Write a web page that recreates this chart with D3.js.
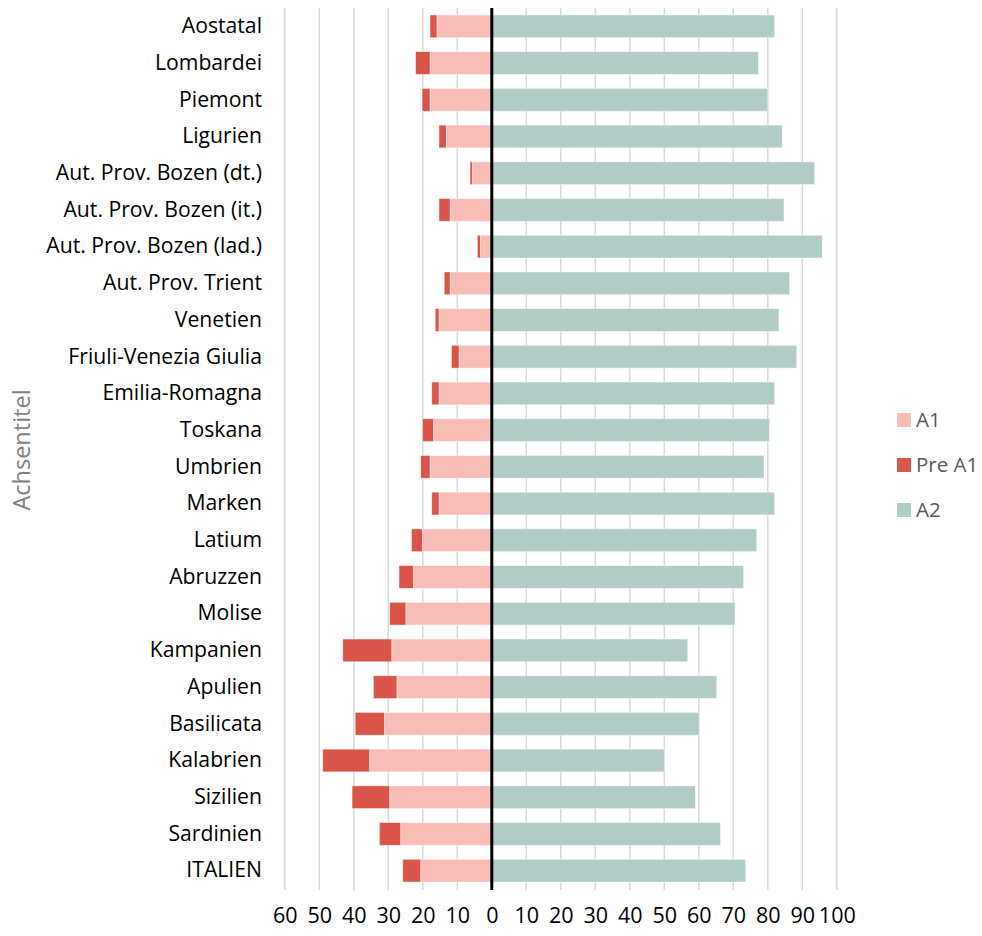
<!DOCTYPE html>
<html>
<head>
<meta charset="utf-8">
<script src="https://cdn.jsdelivr.net/npm/d3@7"></script>
<style>
  html, body { margin: 0; padding: 0; background: #fff; }
  svg { display: block; font-family: "Open Sans", Lato, sans-serif; }
</style>
</head>
<body>
<svg id="chart" width="982" height="936"></svg>
<script>
// Regions, top to bottom
const regions = [
  "Aostatal", "Lombardei", "Piemont", "Ligurien",
  "Aut. Prov. Bozen (dt.)", "Aut. Prov. Bozen (it.)", "Aut. Prov. Bozen (lad.)",
  "Aut. Prov. Trient", "Venetien", "Friuli-Venezia Giulia", "Emilia-Romagna",
  "Toskana", "Umbrien", "Marken", "Latium", "Abruzzen", "Molise", "Kampanien",
  "Apulien", "Basilicata", "Kalabrien", "Sizilien", "Sardinien", "ITALIEN"
];

// Share per level (%), A1 and Pre A1 extend to the left of zero
const a1 = [15.9, 17.9, 17.9, 13.2, 5.6, 12.1, 3.3, 12.1, 15.3, 9.5, 15.3, 16.9,
            17.9, 15.3, 20.1, 22.7, 24.9, 29.0, 27.5, 31.1, 35.4, 29.6, 26.4, 20.6];
const preA1 = [2.0, 4.2, 2.3, 2.1, 0.7, 3.2, 0.9, 1.7, 1.1, 2.2, 2.1, 3.2,
               2.7, 2.1, 3.2, 4.2, 4.7, 14.2, 6.8, 8.5, 13.6, 10.9, 6.2, 5.2];
const a2 = [82.0, 77.3, 80.0, 84.2, 93.6, 84.7, 95.8, 86.3, 83.2, 88.4, 82.0, 80.5,
            78.9, 82.0, 76.8, 73.0, 70.5, 56.8, 65.2, 60.1, 50.0, 59.0, 66.3, 73.6];

const xTicks = [-60, -50, -40, -30, -20, -10, 0, 10, 20, 30, 40, 50, 60, 70, 80, 90, 100];

const legendItems = ["A1", "Pre A1", "A2"];
const colors = { "A1": "#f9bdb8", "Pre A1": "#d9554a", "A2": "#b2ccc8" };

const svg = d3.select("#chart");

const x = d3.scaleLinear().domain([-60, 100]).range([284.8, 836.8]);
const y = d3.scaleBand().domain(regions).range([8, 889]).paddingInner(0.38).paddingOuter(0.19);

const plotTop = 8, plotBottom = 890;

// Vertical gridlines
svg.append("g")
  .selectAll("line")
  .data(xTicks)
  .join("line")
  .attr("x1", d => x(d)).attr("x2", d => x(d))
  .attr("y1", plotTop).attr("y2", plotBottom)
  .attr("stroke", "#d9d9d9")
  .attr("stroke-width", 1.5);

// Bar rows
const rows = regions.map((r, i) => ({ region: r, a1: a1[i], pre: preA1[i], a2: a2[i] }));

const bars = svg.append("g");
const segStyle = sel => sel
  .attr("stroke", "#ffffff").attr("stroke-width", 0.75).attr("stroke-opacity", 0.6);

bars.selectAll("rect.a1")
  .data(rows).join("rect").attr("class", "a1")
  .attr("x", d => x(-d.a1))
  .attr("width", d => x(0) - x(-d.a1))
  .attr("y", d => y(d.region))
  .attr("height", y.bandwidth())
  .attr("fill", colors["A1"])
  .call(segStyle);

bars.selectAll("rect.pre")
  .data(rows).join("rect").attr("class", "pre")
  .attr("x", d => x(-(d.a1 + d.pre)))
  .attr("width", d => x(-d.a1) - x(-(d.a1 + d.pre)))
  .attr("y", d => y(d.region))
  .attr("height", y.bandwidth())
  .attr("fill", colors["Pre A1"])
  .call(segStyle);

bars.selectAll("rect.a2")
  .data(rows).join("rect").attr("class", "a2")
  .attr("x", x(0))
  .attr("width", d => x(d.a2) - x(0))
  .attr("y", d => y(d.region))
  .attr("height", y.bandwidth())
  .attr("fill", colors["A2"])
  .call(segStyle);

// Zero line
svg.append("line")
  .attr("x1", x(0)).attr("x2", x(0))
  .attr("y1", plotTop).attr("y2", plotBottom)
  .attr("stroke", "#000").attr("stroke-width", 3);

// Bottom axis: absolute values
const xAxis = d3.axisBottom(x).tickValues(xTicks).tickFormat(d => Math.abs(d)).tickSize(0).tickPadding(0);
const gx = svg.append("g").attr("transform", `translate(0, ${plotBottom + 18})`).call(xAxis);
gx.select(".domain").remove();
gx.selectAll("text")
  .attr("font-family", "'Open Sans', Lato, sans-serif")
  .attr("font-size", 21.5)
  .attr("fill", "#000")
  .attr("dy", "0.72em");

// Category axis
const yAxis = d3.axisLeft(y).tickSize(0).tickPadding(0);
const gy = svg.append("g").attr("transform", "translate(262, 0)").call(yAxis);
gy.select(".domain").remove();
gy.selectAll("text")
  .attr("font-family", "'Open Sans', Lato, sans-serif")
  .attr("font-size", 21.2)
  .attr("fill", "#000");

// Axis title
svg.append("text")
  .attr("transform", "translate(30, 450) rotate(-90)")
  .attr("text-anchor", "middle")
  .attr("font-size", 23.5)
  .attr("fill", "#7f7f7f")
  .text("Achsentitel");

// Legend
const legend = svg.append("g");
const ly = d3.scalePoint().domain(legendItems).range([420, 510]);
legend.selectAll("rect")
  .data(legendItems).join("rect")
  .attr("x", 897).attr("y", d => ly(d) - 7)
  .attr("width", 14).attr("height", 14)
  .attr("fill", d => colors[d]);
legend.selectAll("text")
  .data(legendItems).join("text")
  .attr("x", 916).attr("y", d => ly(d))
  .attr("dy", "0.36em")
  .attr("font-size", 20.5)
  .attr("fill", "#595959")
  .text(d => d);
</script>
</body>
</html>
